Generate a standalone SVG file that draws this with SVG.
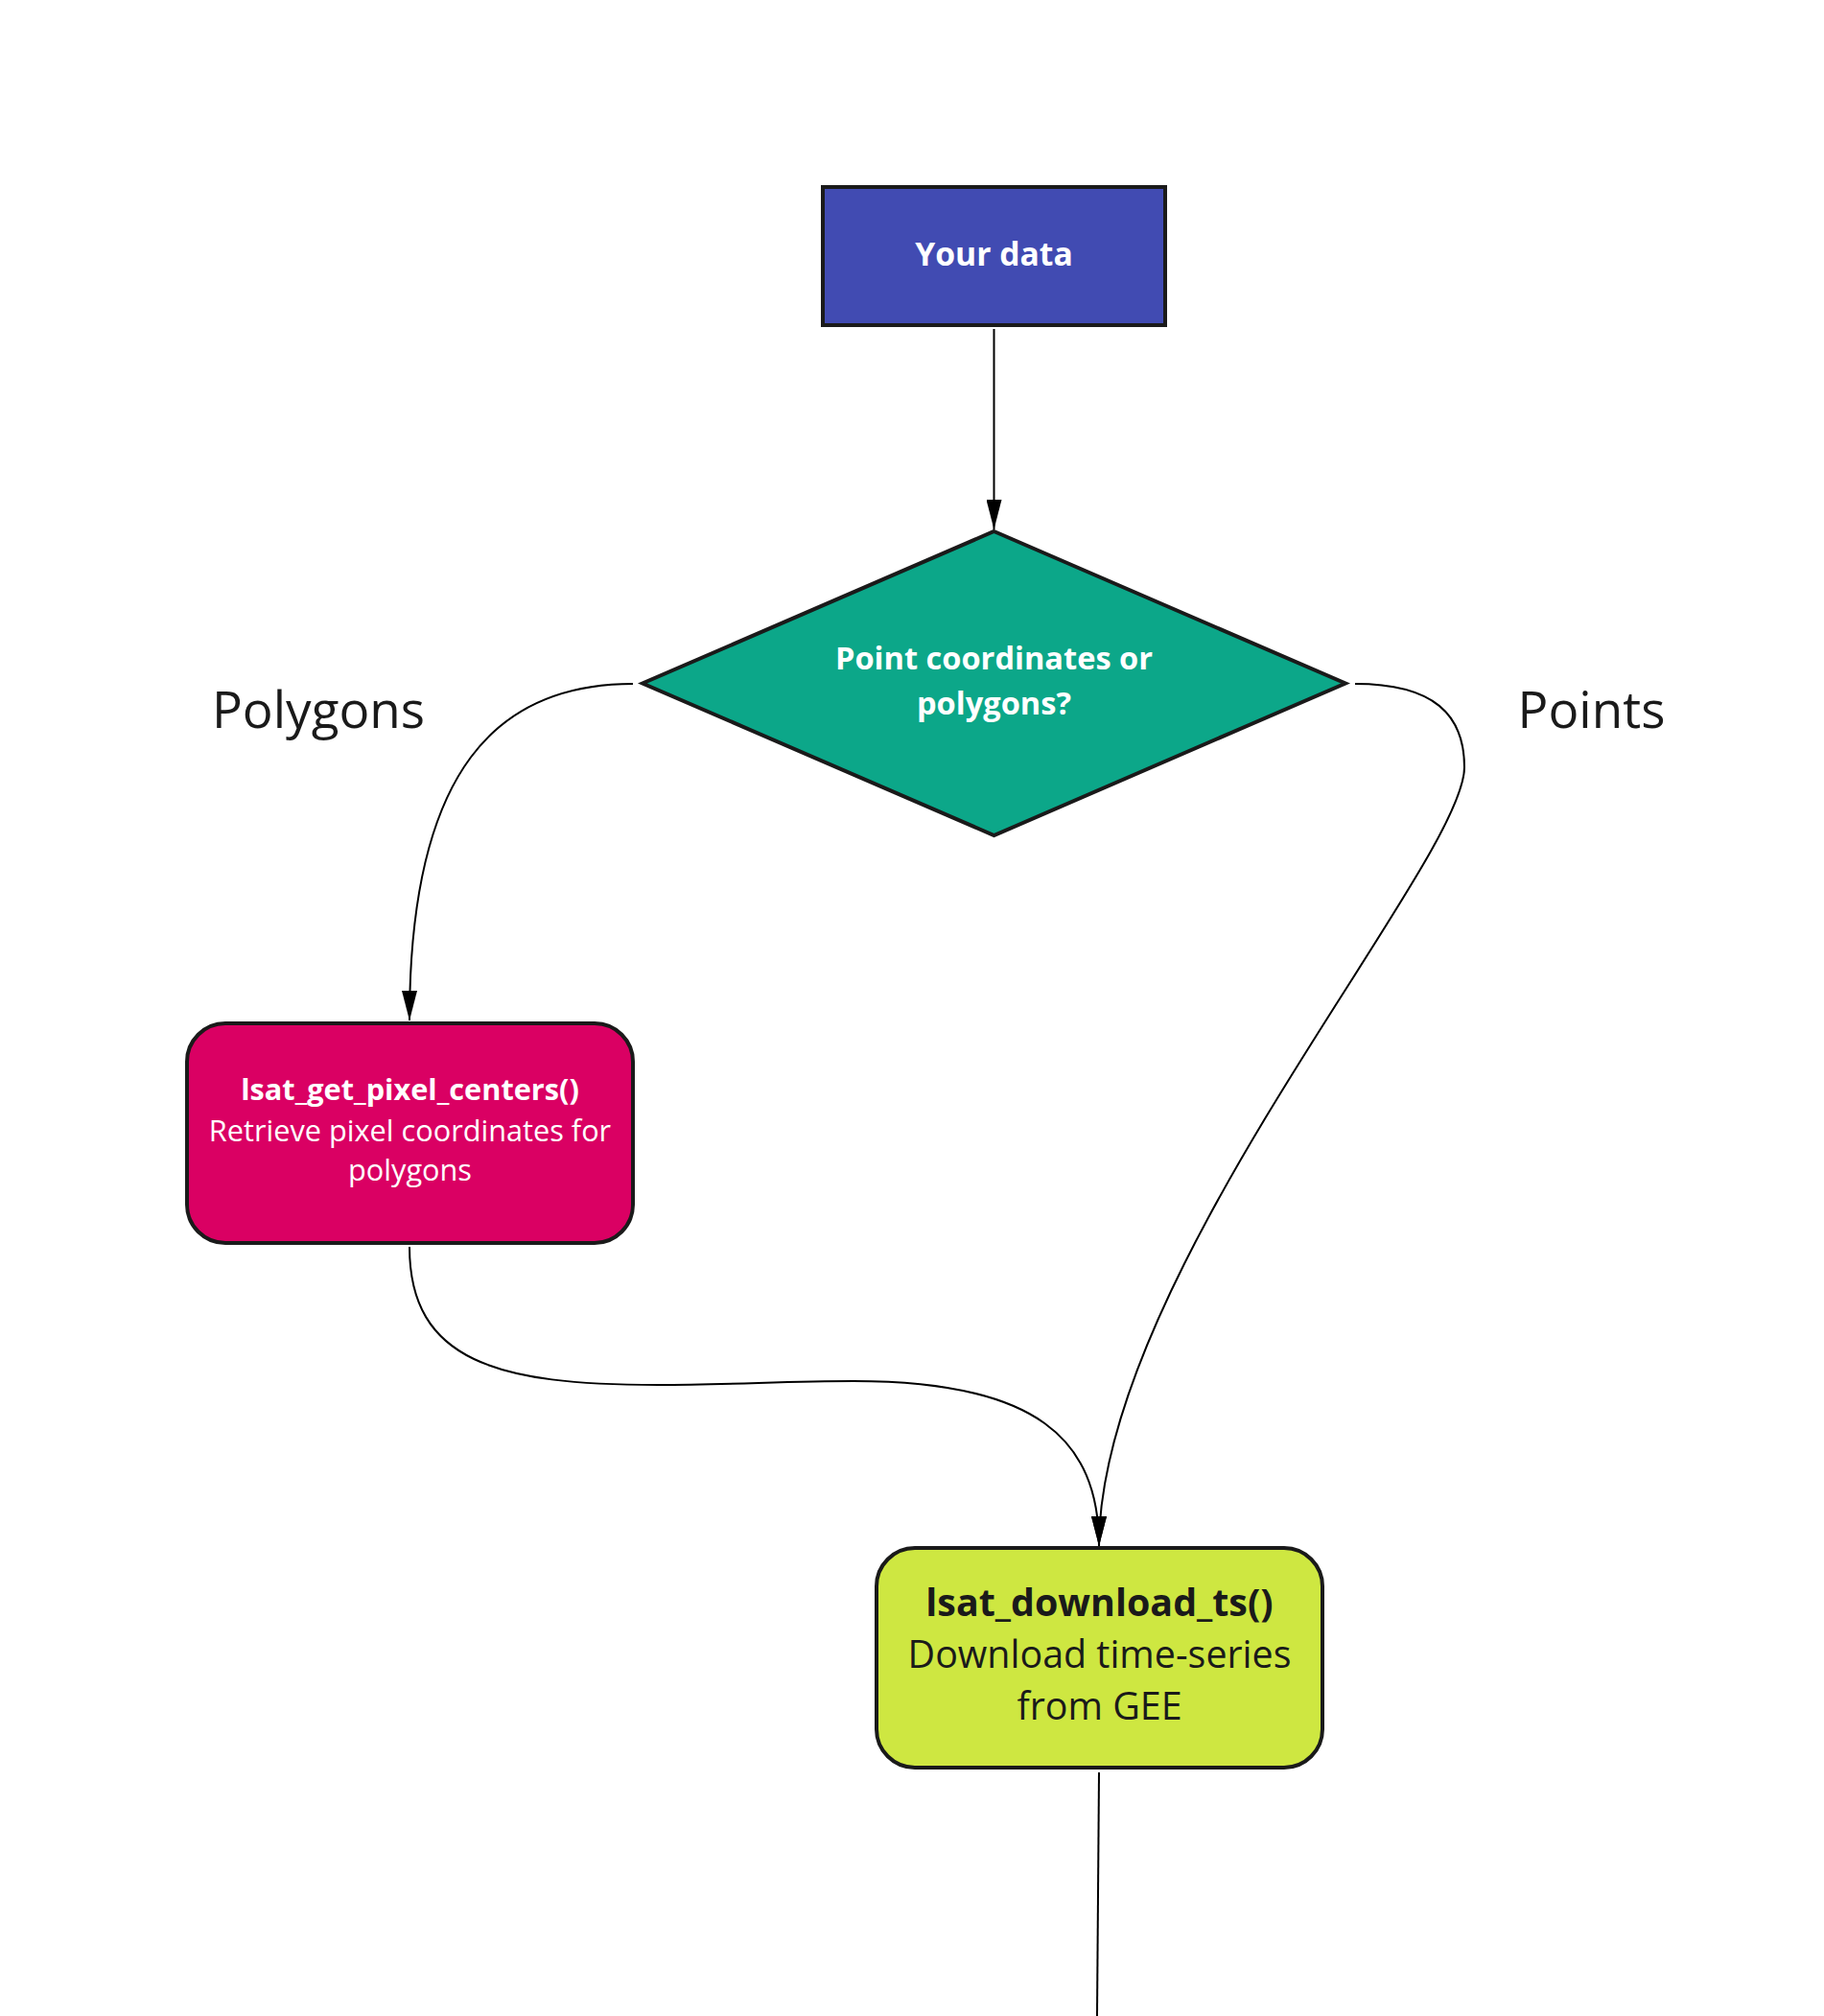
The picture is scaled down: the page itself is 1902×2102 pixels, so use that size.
<svg xmlns="http://www.w3.org/2000/svg" width="1902" height="2102" viewBox="0 0 1902 2102">
<style>
.box{stroke:#1a1a1a;stroke-width:4}
.edge{fill:none;stroke:#000;stroke-width:2}
.t{font-family:"Open Sans","Noto Sans","Liberation Sans",sans-serif;text-anchor:middle}
.b{font-weight:700}
.w{fill:#ffffff}
.d{fill:#1a1a1a}
</style>
<defs>
<marker id="arr" markerUnits="userSpaceOnUse" markerWidth="32" markerHeight="16" refX="31" refY="8" orient="auto" viewBox="0 0 32 16">
<path d="M0,0 L31,8 L0,16 z" fill="#000"/>
</marker>
</defs>
<rect width="1902" height="2102" fill="#ffffff"/>
<g id="connectors">
<path class="edge" d="M1036.5,343 L1036.5,552" marker-end="url(#arr)"/>
<path class="edge" d="M660,713 C520,713 427,800 427,1064" marker-end="url(#arr)"/>
<path class="edge" d="M1413,713 C1495,713 1527,745 1527,800 C1527,900 1146,1330 1146,1612" marker-end="url(#arr)"/>
<path class="edge" d="M427,1300 C427,1420 520,1444 686,1444 C760,1444 820,1440 890,1440 C1080,1440 1146,1500 1146,1612" marker-end="url(#arr)"/>
<path class="edge" d="M1146,1848 L1144,2102"/>
</g>
<g id="node-your-data">
<rect class="box" x="858" y="195" width="357" height="144" fill="#414bb2"/>
<text class="t b w" x="1036.5" y="277" font-size="33.7">Your data</text>
</g>
<g id="node-decision">
<polygon class="box" points="1036.5,554 1403,712.5 1036.5,871 670,712.5" fill="#0ca789"/>
<text class="t b w" font-size="32.6"><tspan x="1036.5" y="698">Point coordinates or</tspan><tspan x="1036.5" y="745">polygons?</tspan></text>
</g>
<g id="label-polygons">
<text class="t d" x="332" y="759" font-size="53">Polygons</text>
</g>
<g id="label-points">
<text class="t d" x="1659.5" y="759" font-size="53">Points</text>
</g>
<g id="node-pixel-centers">
<rect class="box" x="195" y="1067" width="465" height="229" rx="40" ry="40" fill="#da0063"/>
<text class="t w" font-size="30.7"><tspan class="b" x="427.5" y="1147">lsat_get_pixel_centers()</tspan><tspan x="427.5" y="1190">Retrieve pixel coordinates for</tspan><tspan x="427.5" y="1231">polygons</tspan></text>
</g>
<g id="node-download">
<rect class="box" x="914" y="1614" width="465" height="229" rx="40" ry="40" fill="#cee741"/>
<text class="t d" font-size="39.4"><tspan class="b" x="1146.5" y="1685">lsat_download_ts()</tspan><tspan x="1146.5" y="1739">Download time-series</tspan><tspan x="1146.5" y="1793">from GEE</tspan></text>
</g>
</svg>
